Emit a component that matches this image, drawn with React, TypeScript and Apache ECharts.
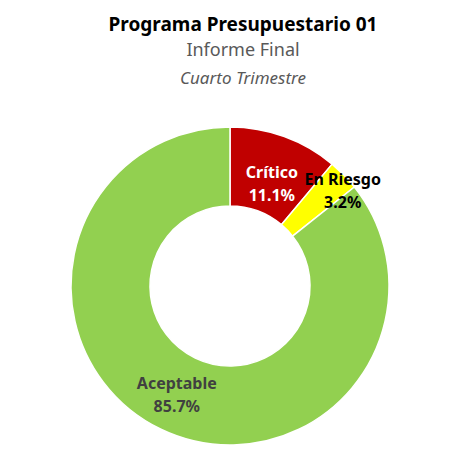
import React, { useEffect, useRef } from "react";
import * as echarts from "echarts";

const categories = ["Crítico", "En Riesgo", "Aceptable"];
const values = [11.1, 3.2, 85.7];
const colors = ["#C00000", "#FFFF00", "#92D050"];
const labelColors = ["#FFFFFF", "#000000", "#404040"];

export default function App() {
  const ref = useRef<HTMLDivElement>(null);
  useEffect(() => {
    if (!ref.current) return;
    const chart = echarts.init(ref.current, null, { renderer: "svg" });
    const font = "'Noto Sans', 'Open Sans', sans-serif";
    const offsets: Record<number, number[]> = { 0: [0, 13], 1: [25, -10], 2: [0, -2] };
    chart.setOption({
      animation: false,
      backgroundColor: "#FFFFFF",
      title: [
        {
          text: "Programa Presupuestario 01",
          left: 238,
          textAlign: "center",
          top: 9,
          textStyle: { fontFamily: font, fontSize: 19, fontWeight: "bold", color: "#000000" },
        },
        {
          text: "Informe Final",
          left: 238,
          textAlign: "center",
          top: 35,
          textStyle: { fontFamily: font, fontSize: 18, fontWeight: "normal", color: "#595959" },
        },
        {
          text: "Cuarto Trimestre",
          left: 238,
          textAlign: "center",
          top: 64,
          textStyle: { fontFamily: font, fontSize: 17, fontWeight: "normal", fontStyle: "italic", color: "#595959" },
        },
      ],
      series: [
        {
          type: "pie",
          center: [230, 286],
          radius: [80, 159],
          startAngle: 90,
          clockwise: true,
          avoidLabelOverlap: false,
          itemStyle: { borderColor: "#FFFFFF", borderWidth: 1.5 },
          label: {
            show: true,
            position: "inside",
            fontFamily: font,
            fontSize: 16,
            fontWeight: "bold",
            lineHeight: 23,
            formatter: (p: any) => `${p.name}\n${p.value.toFixed(1)}%`,
          },
          labelLine: { show: false },
          emphasis: { disabled: true },
          data: categories.map((name, i) => ({
            name,
            value: values[i],
            itemStyle: { color: colors[i] },
            label: {
              color: labelColors[i],
              offset: offsets[i],
            },
          })),
        },
      ],
    });
    return () => chart.dispose();
  }, []);
  return (
    <div
      ref={ref}
      style={{ position: "fixed", left: 0, top: 0, width: 450, height: 462 }}
    />
  );
}
